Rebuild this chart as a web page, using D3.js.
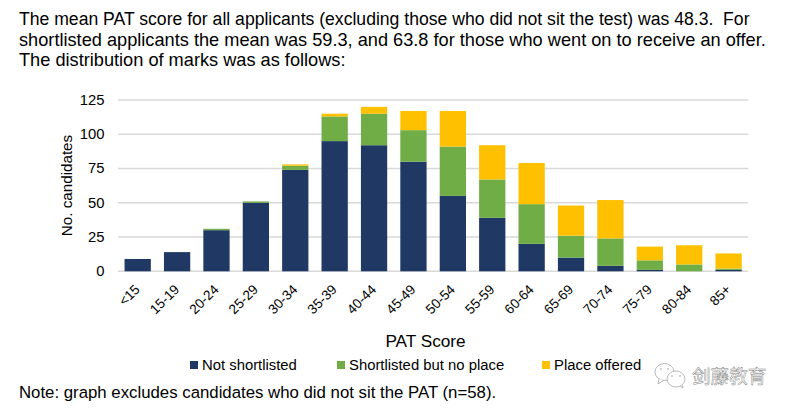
<!DOCTYPE html>
<html>
<head>
<meta charset="utf-8">
<script src="https://cdnjs.cloudflare.com/ajax/libs/d3/7.8.5/d3.min.js"></script>
<style>
html, body { margin: 0; padding: 0; background: #fff; }
text { font-family: "Liberation Sans", Arial, sans-serif; fill: #000; white-space: pre; }
</style>
</head>
<body>
<div id="chart"></div>
<script>
const categories = ['<15', '15-19', '20-24', '25-29', '30-34', '35-39', '40-44', '45-49',
    '50-54', '55-59', '60-64', '65-69', '70-74', '75-79', '80-84', '85+'];
const notShortlisted = [9, 14, 30, 50, 74, 95, 92, 80, 55, 39, 20, 10, 4, 1, 0, 1];
const shortlistedNoPlace = [0, 0, 1, 1, 3, 18, 23, 23, 36, 28, 29, 16, 20, 7, 5, 1];
const placeOffered = [0, 0, 0, 0, 1, 2, 5, 14, 26, 25, 30, 22, 28, 10, 14, 11];
const seriesNames = ['Not shortlisted', 'Shortlisted but no place', 'Place offered'];
const seriesColors = ['#1f3864', '#70ad47', '#ffc000'];
const yTicks = [0, 25, 50, 75, 100, 125];
const introLines = [
    'The mean PAT score for all applicants (excluding those who did not sit the test) was 48.3.  For',
    'shortlisted applicants the mean was 59.3, and 63.8 for those who went on to receive an offer.',
    'The distribution of marks was as follows:'
];
const noteText = 'Note: graph excludes candidates who did not sit the PAT (n=58).';

const width = 793, height = 410;
const svg = d3.select('#chart').append('svg')
    .attr('width', width)
    .attr('height', height)
    .style('display', 'block');

// paragraph above the chart
svg.selectAll('.intro').data(introLines).enter().append('text')
    .attr('class', 'intro')
    .text(d => d)
    .attr('x', 19)
    .attr('y', (d, i) => [25, 46, 66][i])
    .style('font-size', (d, i) => ['17.6px', '18.2px', '18.2px'][i]);

const x = d3.scaleBand().domain(categories).range([118, 748.3]).paddingInner(0.333).paddingOuter(0.1665);
const y = d3.scaleLinear().domain([0, 125]).range([271.3, 100]);

// gridlines
svg.selectAll('.grid').data(yTicks).enter().append('line')
    .attr('class', 'grid')
    .attr('x1', x.range()[0])
    .attr('x2', x.range()[1])
    .attr('y1', d => y(d))
    .attr('y2', d => y(d))
    .attr('stroke', '#d9d9d9')
    .attr('stroke-width', 1.5);

// stacked bars
const rows = categories.map((c, i) => ({
    category: c,
    a: notShortlisted[i],
    b: shortlistedNoPlace[i],
    c: placeOffered[i]
}));
const stacked = d3.stack().keys(['a', 'b', 'c'])(rows);

svg.selectAll('.layer').data(stacked).enter().append('g')
    .attr('class', 'layer')
    .attr('fill', (d, i) => seriesColors[i])
    .selectAll('rect').data(d => d).enter().append('rect')
    .attr('x', d => x(d.data.category))
    .attr('width', x.bandwidth())
    .attr('y', d => y(d[1]))
    .attr('height', d => y(d[0]) - y(d[1]));

// y axis labels
const yAxis = svg.append('g')
    .attr('transform', 'translate(104.5,-0.5)')
    .call(d3.axisLeft(y).tickValues(yTicks).tickSize(0).tickPadding(0));
yAxis.select('.domain').remove();
yAxis.selectAll('text')
    .style('font-size', '14.8px')
    .style('font-family', '"Liberation Sans", Arial, sans-serif')
    .attr('fill', '#000');

// x axis labels, rotated
const xAxis = svg.append('g')
    .attr('transform', 'translate(0,271.3)')
    .call(d3.axisBottom(x).tickSize(0).tickPadding(0));
xAxis.select('.domain').remove();
xAxis.selectAll('text')
    .attr('text-anchor', 'end')
    .attr('dy', 0)
    .attr('y', 0)
    .attr('transform', 'translate(3,19) rotate(-45)')
    .style('font-size', '13.6px')
    .style('font-family', '"Liberation Sans", Arial, sans-serif')
    .attr('fill', '#000');

// axis titles
svg.append('text')
    .text('No. candidates')
    .attr('transform', 'translate(72,185.5) rotate(-90)')
    .attr('text-anchor', 'middle')
    .style('font-size', '15.2px');

svg.append('text')
    .text('PAT Score')
    .attr('x', 425.5)
    .attr('y', 347)
    .attr('text-anchor', 'middle')
    .style('font-size', '17.2px');

// legend
const legendX = [190, 337, 542];
const legend = svg.selectAll('.legend').data(seriesNames).enter().append('g')
    .attr('class', 'legend')
    .attr('transform', (d, i) => 'translate(' + legendX[i] + ',0)');
legend.append('rect')
    .attr('y', 361)
    .attr('width', 8)
    .attr('height', 8)
    .attr('fill', (d, i) => seriesColors[i]);
legend.append('text')
    .text(d => d)
    .attr('x', 12)
    .attr('y', 370)
    .style('font-size', '14.85px');

// footnote
svg.append('text')
    .text(noteText)
    .attr('x', 19)
    .attr('y', 398)
    .style('font-size', '16.8px');

// watermark
const mark = svg.append('g')
    .attr('fill', '#fff')
    .attr('stroke', '#a8a8a8')
    .attr('stroke-width', 0.8);
mark.append('ellipse').attr('cx', 664.5).attr('cy', 372).attr('rx', 9.5).attr('ry', 8.5);
mark.append('path').attr('d', 'M659 379 L658 384 L664 380');
mark.append('ellipse').attr('cx', 676).attr('cy', 379).attr('rx', 9).attr('ry', 8);
mark.append('path').attr('d', 'M680 386 L683 388 L682 385');
svg.selectAll('.eye').data([[661, 369], [668, 369], [672, 376], [680, 376]]).enter().append('circle')
    .attr('class', 'eye')
    .attr('cx', d => d[0])
    .attr('cy', d => d[1])
    .attr('r', 0.8)
    .attr('fill', '#999');

svg.append('text')
    .text('剑藤教育')
    .attr('x', 692)
    .attr('y', 383)
    .style('font-family', '"Noto Sans CJK SC"')
    .style('font-size', '18.6px')
    .style('fill', '#fff')
    .style('stroke', '#808080')
    .style('stroke-width', '0.45px');
</script>
</body>
</html>
